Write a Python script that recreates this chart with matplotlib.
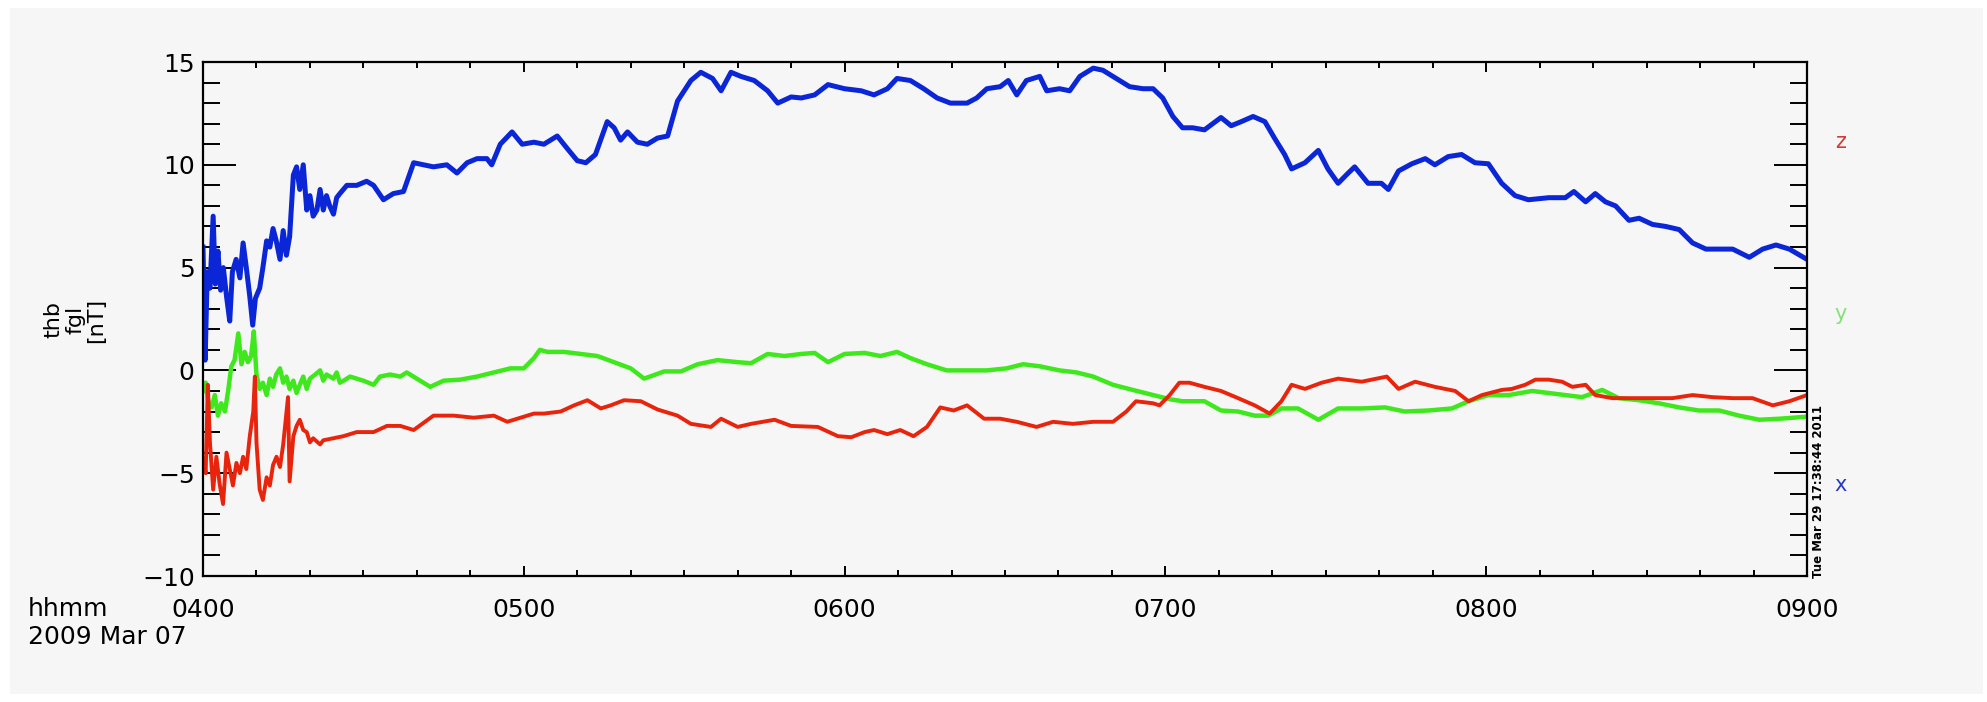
import matplotlib
matplotlib.use("Agg")
import matplotlib.pyplot as plt
from matplotlib.patches import Rectangle
from matplotlib.ticker import MultipleLocator, FixedLocator, FixedFormatter

# THEMIS-B FGM field components, minutes after 0400 UT, values in nT
bx = [(0.0, 6.0), (0.4, 0.5), (0.8, 4.8), (1.3, 4.0), (1.9, 7.5), (2.3, 4.2), (2.8, 5.8), (3.3, 3.9),
      (3.8, 5.0), (4.4, 3.6), (5.0, 2.4), (5.5, 4.8), (6.2, 5.4), (6.9, 4.5), (7.5, 6.2), (8.1, 5.0),
      (8.75, 3.6), (9.3, 2.2), (9.8, 3.5), (10.6, 4.0), (11.2, 5.0), (11.9, 6.3), (12.5, 6.0), (13.1, 6.9),
      (13.7, 6.3), (14.4, 5.4), (15.0, 6.8), (15.6, 5.6), (16.2, 6.5), (16.9, 9.5), (17.5, 9.9), (18.1, 8.8),
      (18.75, 10.0), (19.4, 7.8), (20.0, 8.5), (20.6, 7.5), (21.3, 7.8), (21.9, 8.8), (22.5, 7.8), (23.1, 8.5),
      (23.7, 8.0), (24.4, 7.6), (25.0, 8.4), (25.6, 8.6), (26.9, 9.0), (28.75, 9.0), (30.6, 9.2), (31.9, 9.0),
      (33.75, 8.3), (35.6, 8.6), (37.5, 8.7), (39.4, 10.1), (41.25, 10.0), (43.1, 9.9), (45.6, 10.0),
      (47.5, 9.6), (49.4, 10.1), (51.25, 10.3), (53.1, 10.3), (54.0, 10.0), (55.6, 11.0), (57.8, 11.6),
      (59.7, 11.0), (61.9, 11.1), (63.75, 11.0), (66.25, 11.4), (68.1, 10.8), (70.0, 10.2), (71.6, 10.1),
      (73.4, 10.5), (75.6, 12.1), (76.9, 11.8), (78.1, 11.2), (79.4, 11.6), (81.25, 11.1), (83.1, 11.0),
      (85.0, 11.3), (86.9, 11.4), (88.75, 13.1), (91.25, 14.1), (93.1, 14.5), (95.3, 14.2), (96.9, 13.6),
      (98.75, 14.5), (100.6, 14.3), (103.1, 14.1), (105.6, 13.6), (107.5, 13.0), (110.0, 13.3),
      (111.9, 13.25), (114.4, 13.4), (116.9, 13.9), (120.0, 13.7), (123.1, 13.6), (125.5, 13.4),
      (128.0, 13.7), (129.8, 14.2), (132.3, 14.1), (134.8, 13.7), (137.3, 13.25), (139.8, 13.0),
      (142.9, 13.0), (144.7, 13.25), (146.6, 13.7), (149.1, 13.8), (150.6, 14.1), (152.2, 13.4),
      (154.0, 14.1), (156.5, 14.3), (157.8, 13.6), (160.2, 13.7), (162.1, 13.6), (164.0, 14.3),
      (166.5, 14.7), (168.3, 14.6), (170.8, 14.2), (173.3, 13.8), (175.8, 13.7), (177.7, 13.7),
      (179.5, 13.25), (181.4, 12.35), (183.2, 11.8), (185.1, 11.8), (187.3, 11.7), (190.4, 12.3),
      (192.3, 11.9), (194.2, 12.1), (196.4, 12.35), (198.6, 12.1), (200.4, 11.3), (202.3, 10.5),
      (203.6, 9.8), (206.1, 10.1), (208.6, 10.7), (210.4, 9.8), (212.3, 9.1), (214.2, 9.6), (215.4, 9.9),
      (217.9, 9.1), (220.4, 9.1), (221.7, 8.8), (223.6, 9.7), (226.1, 10.05), (228.6, 10.3), (230.4, 10.0),
      (232.9, 10.4), (235.4, 10.5), (237.9, 10.1), (240.4, 10.05), (242.9, 9.1), (245.4, 8.5), (247.9, 8.3),
      (251.7, 8.4), (254.8, 8.4), (256.4, 8.7), (258.6, 8.2), (260.4, 8.6), (262.3, 8.2), (264.2, 8.0),
      (266.7, 7.3), (268.6, 7.4), (271.1, 7.1), (273.6, 7.0), (276.1, 6.85), (278.6, 6.2), (281.1, 5.9),
      (286.1, 5.9), (289.2, 5.5), (291.7, 5.9), (294.2, 6.1), (296.7, 5.9), (300.0, 5.4)]

by = [(0.0, -1.0), (0.5, -0.6), (1.0, -1.5), (1.6, -1.8), (2.2, -1.2), (2.8, -2.2), (3.4, -1.6), (4.1, -2.0),
      (4.7, -1.0), (5.3, 0.2), (5.9, 0.5), (6.6, 1.8), (7.2, 0.3), (7.8, 0.9), (8.4, 0.4), (9.0, 0.7),
      (9.5, 1.9), (10.0, -0.2), (10.6, -0.9), (11.2, -0.6), (11.9, -1.2), (12.5, -0.4), (13.1, -0.8),
      (13.7, -0.2), (14.4, 0.1), (15.0, -0.6), (15.6, -0.3), (16.2, -0.9), (16.9, -0.5), (17.5, -1.1),
      (18.1, -0.7), (18.75, -0.3), (19.4, -0.9), (20.0, -0.4), (21.0, -0.2), (21.9, 0.0), (22.5, -0.5),
      (23.1, -0.2), (24.4, -0.4), (25.0, -0.1), (25.6, -0.6), (26.3, -0.5), (27.5, -0.3), (28.75, -0.4),
      (30.0, -0.5), (31.9, -0.7), (33.1, -0.3), (35.0, -0.2), (36.9, -0.3), (38.1, -0.1), (40.0, -0.4),
      (42.5, -0.8), (45.0, -0.5), (48.1, -0.45), (51.25, -0.3), (54.4, -0.1), (57.5, 0.1), (60.0, 0.1),
      (61.9, 0.6), (63.0, 1.0), (64.4, 0.9), (67.5, 0.9), (70.6, 0.8), (73.75, 0.7), (76.9, 0.4),
      (80.0, 0.1), (82.5, -0.4), (86.25, -0.05), (89.4, -0.05), (92.5, 0.3), (96.25, 0.5), (100.0, 0.4),
      (102.5, 0.35), (105.6, 0.8), (108.75, 0.7), (111.9, 0.8), (114.4, 0.85), (116.9, 0.4), (120.0, 0.8),
      (123.75, 0.85), (126.7, 0.7), (129.8, 0.9), (132.3, 0.6), (135.4, 0.3), (139.1, 0.0), (142.9, 0.0),
      (146.6, 0.0), (150.3, 0.1), (153.4, 0.3), (156.5, 0.2), (160.2, 0.0), (163.4, -0.1), (166.5, -0.3),
      (170.2, -0.7), (173.9, -0.95), (177.7, -1.2), (180.8, -1.4), (183.2, -1.5), (187.3, -1.5),
      (190.4, -1.95), (193.6, -2.0), (196.7, -2.2), (199.2, -2.2), (201.7, -1.85), (204.8, -1.85),
      (208.6, -2.4), (212.3, -1.85), (216.7, -1.85), (221.1, -1.8), (224.8, -2.0), (229.2, -1.95),
      (233.6, -1.85), (236.7, -1.5), (240.4, -1.2), (244.2, -1.2), (248.6, -1.0), (251.7, -1.1),
      (254.8, -1.2), (257.9, -1.3), (261.7, -0.95), (264.8, -1.35), (268.6, -1.45), (272.3, -1.6),
      (276.1, -1.8), (279.8, -1.95), (283.6, -1.95), (287.3, -2.2), (291.1, -2.4), (294.9, -2.35),
      (300.0, -2.25)]

bz = [(0.0, -4.3), (0.5, -5.0), (0.9, -0.7), (1.3, -3.5), (1.9, -5.8), (2.5, -4.2), (3.1, -5.5),
      (3.75, -6.5), (4.4, -4.0), (5.0, -4.8), (5.6, -5.6), (6.25, -4.5), (6.9, -5.0), (7.5, -4.2),
      (8.1, -4.8), (8.75, -3.2), (9.4, -2.0), (9.7, -0.3), (10.0, -3.5), (10.6, -5.8), (11.2, -6.3),
      (11.9, -5.2), (12.5, -5.6), (13.1, -4.6), (13.75, -4.2), (14.4, -4.7), (15.0, -3.6), (15.9, -1.3),
      (16.2, -5.4), (16.9, -3.2), (17.5, -2.7), (18.1, -2.4), (18.75, -2.9), (19.4, -3.0), (20.0, -3.5),
      (20.6, -3.3), (21.9, -3.6), (22.5, -3.4), (24.4, -3.3), (26.25, -3.2), (28.75, -3.0), (31.9, -3.0),
      (34.4, -2.7), (36.9, -2.7), (39.4, -2.9), (43.1, -2.2), (46.9, -2.2), (50.6, -2.3), (54.4, -2.2),
      (56.9, -2.5), (59.4, -2.3), (61.9, -2.1), (63.75, -2.1), (66.9, -2.0), (69.4, -1.7), (71.9, -1.45),
      (74.4, -1.85), (76.25, -1.7), (78.75, -1.45), (81.9, -1.5), (85.0, -1.9), (88.75, -2.2),
      (91.25, -2.6), (95.0, -2.75), (96.9, -2.35), (100.0, -2.75), (102.5, -2.6), (106.9, -2.4),
      (110.0, -2.7), (115.0, -2.75), (118.75, -3.2), (121.25, -3.25), (123.75, -3.0), (125.5, -2.9),
      (128.0, -3.1), (130.4, -2.9), (132.9, -3.2), (135.4, -2.75), (137.9, -1.8), (140.4, -1.95),
      (142.9, -1.7), (146.1, -2.35), (149.1, -2.35), (152.2, -2.5), (155.9, -2.75), (159.0, -2.5),
      (162.7, -2.6), (166.5, -2.5), (170.2, -2.5), (172.7, -2.0), (174.5, -1.5), (177.7, -1.6),
      (178.9, -1.7), (180.8, -1.2), (182.6, -0.6), (184.5, -0.6), (187.3, -0.8), (190.4, -1.0),
      (193.6, -1.35), (196.7, -1.7), (199.5, -2.1), (201.7, -1.5), (203.6, -0.7), (206.1, -0.9),
      (209.2, -0.6), (212.3, -0.4), (216.7, -0.55), (221.4, -0.3), (223.6, -0.9), (226.7, -0.55),
      (230.4, -0.8), (234.2, -1.0), (236.7, -1.5), (239.2, -1.2), (242.9, -0.95), (244.8, -0.9),
      (247.3, -0.7), (249.2, -0.45), (251.7, -0.45), (254.2, -0.55), (256.1, -0.8), (258.6, -0.7),
      (260.4, -1.2), (263.6, -1.35), (267.3, -1.35), (271.1, -1.35), (274.8, -1.35), (278.6, -1.2),
      (282.3, -1.3), (286.1, -1.35), (289.8, -1.35), (293.6, -1.7), (296.7, -1.5), (300.0, -1.2)]

hour_ticks = [0, 60, 120, 180, 240, 300]
hour_labels = ["0400", "0500", "0600", "0700", "0800", "0900"]
components = ["x", "y", "z"]
colors = {"x": "#0a26d6", "y": "#3ee81c", "z": "#e8240c"}
widths = {"x": 3.6, "y": 3.2, "z": 2.8}
label_colors = {"x": "#2a3ac8", "y": "#86e07a", "z": "#d43a34"}

bg = "#f6f6f6"
W, H = 1987, 702

fig = plt.figure(figsize=(W / 100, H / 100), dpi=100, facecolor="white")
fig.patches.append(Rectangle((10 / W, 8 / H), 1 - 14 / W, 1 - 16 / H, transform=fig.transFigure,
                             facecolor=bg, edgecolor="none", zorder=-1))

ax = fig.add_axes([203 / W, 1 - 576 / H, (1807 - 203) / W, (576 - 62) / H])
ax.set_facecolor(bg)

for name, data in zip(components, [bx, by, bz]):
    t = [p[0] for p in data]
    v = [p[1] for p in data]
    ax.plot(t, v, color=colors[name], lw=widths[name])

ax.set_xlim(0, 300)
ax.set_ylim(-10, 15)

ax.xaxis.set_major_locator(FixedLocator(hour_ticks))
ax.xaxis.set_major_formatter(FixedFormatter(hour_labels))
ax.xaxis.set_minor_locator(MultipleLocator(10))
ax.yaxis.set_major_locator(MultipleLocator(5))
ax.yaxis.set_minor_locator(MultipleLocator(1))

ax.tick_params(axis="both", which="both", direction="in", top=True, right=True,
               labelsize=18, colors="black", width=1.4)
ax.tick_params(axis="x", which="major", length=7.5, pad=16)
ax.tick_params(axis="x", which="minor", length=4)
ax.tick_params(axis="y", which="major", length=24, pad=6)
ax.tick_params(axis="y", which="minor", length=12.5)
for s in ax.spines.values():
    s.set_linewidth(1.6)

# y title, time axis captions, component labels
fig.text(75 / W, 1 - 320 / H, "thb\nfgl\n[nT]", rotation=90, ha="center", va="center",
         multialignment="center", fontsize=16, linespacing=1.1)
fig.text(28 / W, 1 - 597 / H, "hhmm", ha="left", va="top", fontsize=18)
fig.text(28 / W, 1 - 625 / H, "2009 Mar 07", ha="left", va="top", fontsize=18)

fig.text(1841 / W, 1 - 142 / H, "z", color=label_colors["z"], ha="center", va="center", fontsize=15)
fig.text(1841 / W, 1 - 314 / H, "y", color=label_colors["y"], ha="center", va="center", fontsize=15)
fig.text(1841 / W, 1 - 485 / H, "x", color=label_colors["x"], ha="center", va="center", fontsize=15)

fig.text(1818 / W, 1 - 578 / H, "Tue Mar 29 17:38:44 2011", rotation=90, ha="center", va="bottom",
         fontsize=8.5, fontweight="bold")

fig.savefig("out.png", dpi=100, facecolor=fig.get_facecolor())
